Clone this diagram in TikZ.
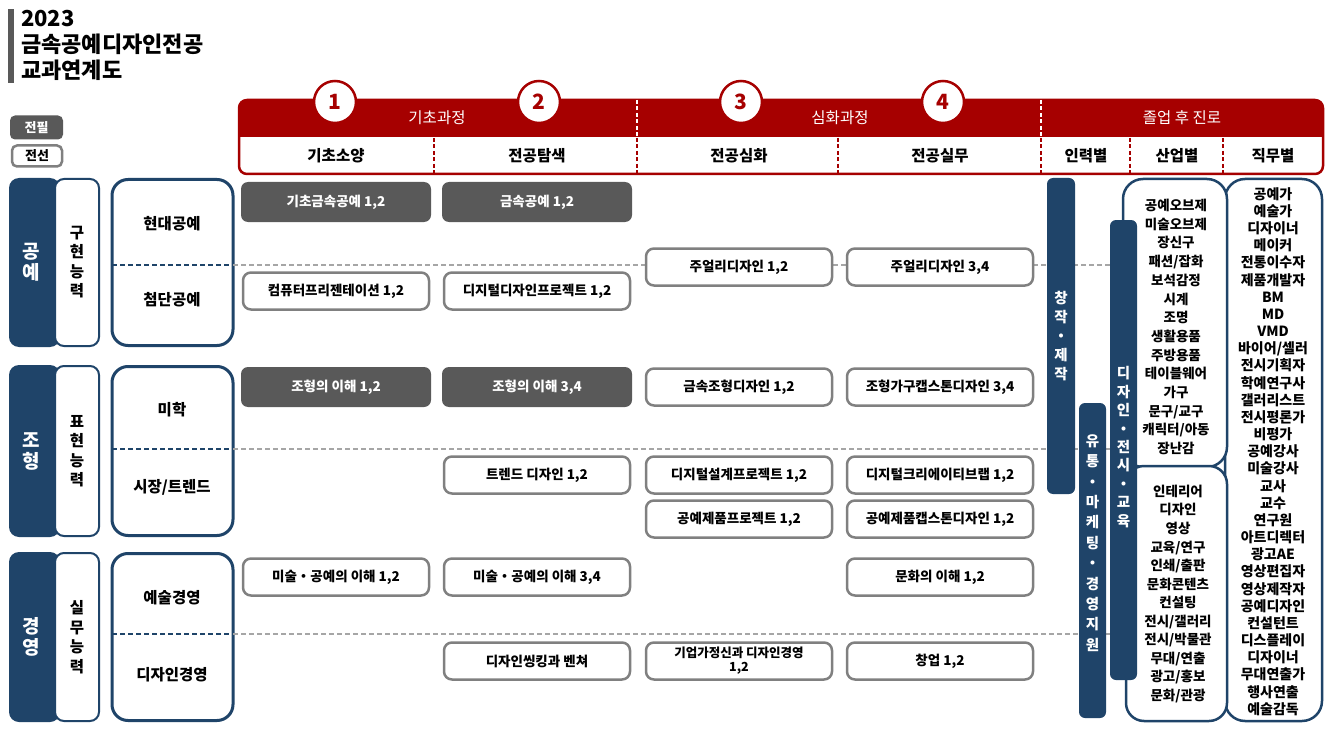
\documentclass[tikz,border=0pt]{standalone}
\usepackage{fontspec}
\setmainfont{Noto Sans CJK KR}
\definecolor{hred}{HTML}{A60000}
\definecolor{navy}{HTML}{1F4469}
\definecolor{dgray}{HTML}{595959}
\definecolor{bgray}{HTML}{808080}
\definecolor{lgray}{HTML}{A6A6A6}
\newcommand{\fsz}[2]{\fontsize{#1}{#2}\selectfont}
\tikzset{
  reqbox/.style={fill=dgray, rounded corners=7pt, text=white, minimum width=190pt, minimum height=40pt, inner sep=0pt, font=\fsz{13.5}{15}\bfseries},
  elecbox/.style={draw=bgray, line width=2.5pt, fill=white, rounded corners=8pt, text=black, minimum width=186pt, minimum height=37pt, inner sep=0pt, align=center, font=\fsz{13.5}{15}\bfseries},
  gline/.style={draw=lgray, line width=1.5pt, dash pattern=on 5pt off 3pt},
  nline/.style={draw=navy, line width=1.5pt, dash pattern=on 5pt off 3pt},
  numc/.style={circle, draw=hred, line width=2.5pt, fill=white, minimum size=42pt, inner sep=0pt, text=hred, font=\fsz{21}{22}\bfseries},
  hbandtxt/.style={text=white, font=\fsz{15.5}{17}},
  hrowtxt/.style={text=black, font=\fsz{15.5}{17}\bfseries},
  sublbl/.style={text=black, font=\fsz{15.5}{17}\bfseries},
  vlbl/.style={text=white, align=center, font=\fsz{19}{21}\bfseries},
  vside/.style={text=black, align=center, font=\fsz{15.5}{19.5}\bfseries},
  bartxt/.style={text=white, align=center},
  listtxt/.style={text=black, align=center},
}
\begin{document}
\begin{tikzpicture}[x=1pt,y=-1pt]
\useasboundingbox (0,0) rectangle (1331,733);
\fill[white] (0,0) rectangle (1331,733);

% ---- title
\fill[dgray] (8,9) rectangle (14,83);
\node[anchor=base west, font=\fsz{22}{23}\bfseries, inner sep=0pt] (t1) at (21,27) {2023};
\node[anchor=base west, font=\fsz{22}{23}\bfseries, inner sep=0pt] (t2) at (21,53) {금속공예디자인전공};
\node[anchor=base west, font=\fsz{22}{23}\bfseries, inner sep=0pt] (t3) at (21,79) {교과연계도};

% ---- legend
\node[fill=dgray, rounded corners=5pt, text=white, minimum width=53pt, minimum height=24pt, inner sep=0pt, font=\fsz{13}{14}\bfseries] (lg1) at (36.5,127.5) {전필};
\node[draw=bgray, line width=2.5pt, fill=white, rounded corners=5pt, minimum width=50pt, minimum height=21pt, inner sep=0pt, font=\fsz{13}{14}\bfseries] (lg2) at (37,156) {전선};

% ---- header
\fill[white, rounded corners=8pt] (239,100) rectangle (1323,174);
\begin{scope}
\clip (230,90) rectangle (1330,137);
\fill[hred, rounded corners=8pt] (239,100) rectangle (1323,160);
\end{scope}
\draw[hred, line width=2.5pt, rounded corners=8pt] (239,100) rectangle (1323,174);
\foreach \x in {637,1041} \draw[white, line width=1.2pt, dash pattern=on 4pt off 2.5pt] (\x,100) -- (\x,137);
\foreach \x in {434,637,838,1041,1130,1223} \draw[hred, line width=1.5pt, dash pattern=on 4pt off 2.5pt] (\x,138) -- (\x,173);

\node[hbandtxt] (hb1) at (437,118) {기초과정};
\node[hbandtxt] (hb2) at (840,118) {심화과정};
\node[hbandtxt] (hb3) at (1182,118) {졸업 후 진로};

\node[hrowtxt] (hr1) at (336,156) {기초소양};
\node[hrowtxt] (hr2) at (537,156) {전공탐색};
\node[hrowtxt] (hr3) at (739,156) {전공심화};
\node[hrowtxt] (hr4) at (940,156) {전공실무};
\node[hrowtxt] (hr5) at (1086,156) {인력별};
\node[hrowtxt] (hr6) at (1177,156) {산업별};
\node[hrowtxt] (hr7) at (1273,156) {직무별};

\node[numc] (n1) at (335,102) {1};
\node[numc] (n2) at (539,102) {2};
\node[numc] (n3) at (741,102) {3};
\node[numc] (n4) at (943,102) {4};

% ---- left groups
\foreach \yt/\yb in {178/347, 365/537, 552/722}{
  \fill[navy, rounded corners=10pt] (9,\yt) rectangle (60,\yb);
  \draw[navy, line width=2pt, fill=white, rounded corners=9pt] (55,\yt+1) rectangle (99,\yb-1);
  \draw[navy, line width=3pt, fill=white, rounded corners=16pt] (112,\yt+1.5) rectangle (233,\yb-1.5);
}
\node[vlbl] (g1) at (31,262) {공\\예};
\node[vlbl] (g2) at (31,451) {조\\형};
\node[vlbl] (g3) at (31,637) {경\\영};
\node[vside] (s1) at (77,262) {구\\현\\능\\력};
\node[vside] (s2) at (77,451) {표\\현\\능\\력};
\node[vside] (s3) at (77,637) {실\\무\\능\\력};
\node[sublbl] (a1) at (172,224) {현대공예};
\node[sublbl] (a2) at (172,300) {첨단공예};
\node[sublbl] (a3) at (172,410) {미학};
\node[sublbl] (a4) at (172,487) {시장/트렌드};
\node[sublbl] (a5) at (172,598) {예술경영};
\node[sublbl] (a6) at (172,675) {디자인경영};

% ---- dashed row separators
\foreach \y in {265,449,634}{
  \draw[nline] (112,\y) -- (233,\y);
  \draw[gline] (233,\y) -- (1112,\y);
}

% ---- course boxes
\node[reqbox] (c1) at (336,202) {기초금속공예 1,2};
\node[reqbox] (c2) at (537,202) {금속공예 1,2};
\node[elecbox] (c3) at (739,267) {주얼리디자인 1,2};
\node[elecbox] (c4) at (940,267) {주얼리디자인 3,4};
\node[elecbox] (c5) at (336,291) {컴퓨터프리젠테이션 1,2};
\node[elecbox] (c6) at (537,291) {디지털디자인프로젝트 1,2};
\node[reqbox] (c7) at (336,387) {조형의 이해 1,2};
\node[reqbox] (c8) at (537,387) {조형의 이해 3,4};
\node[elecbox] (c9) at (739,387) {금속조형디자인 1,2};
\node[elecbox] (c10) at (940,387) {조형가구캡스톤디자인 3,4};
\node[elecbox] (c11) at (537,475) {트렌드 디자인 1,2};
\node[elecbox] (c12) at (739,475) {디지털설계프로젝트 1,2};
\node[elecbox] (c13) at (940,475) {디지털크리에이티브랩 1,2};
\node[elecbox] (c14) at (739,519) {공예제품프로젝트 1,2};
\node[elecbox] (c15) at (940,519) {공예제품캡스톤디자인 1,2};
\node[elecbox] (c16) at (336,577) {미술・공예의 이해 1,2};
\node[elecbox] (c17) at (537,577) {미술・공예의 이해 3,4};
\node[elecbox] (c18) at (940,577) {문화의 이해 1,2};
\node[elecbox] (c19) at (537,661) {디자인씽킹과 벤쳐};
\node[elecbox, font=\fsz{12.5}{14}\bfseries] (c20) at (739,661) {기업가정신과 디자인경영\\1,2};
\node[elecbox] (c21) at (940,661) {창업 1,2};

% ---- right boxes
\draw[navy, line width=2.5pt, fill=white, rounded corners=20pt] (1225,179) rectangle (1322,721);
\draw[navy, line width=2.5pt, fill=white, rounded corners=20pt] (1123,179) rectangle (1227,467);
\draw[navy, line width=2.5pt, fill=white, rounded corners=18pt] (1126,466) rectangle (1227,721);

% ---- bars
\fill[navy, rounded corners=6pt] (1047,178) rectangle (1075,494);
\fill[navy, rounded corners=6pt] (1079,403) rectangle (1106,718);
\fill[navy, rounded corners=6pt] (1110,220) rectangle (1137,680);
\node[bartxt, font=\fsz{14.5}{19}\bfseries] (b1) at (1061,336) {창\\작\\・\\제\\작};
\node[bartxt, font=\fsz{14.5}{20.4}\bfseries] (b2) at (1092.5,543) {유\\통\\・\\마\\케\\팅\\・\\경\\영\\지\\원};
\node[bartxt, font=\fsz{14.5}{18.4}\bfseries] (b3) at (1123.5,447) {디\\자\\인\\・\\전\\시\\・\\교\\육};

% ---- lists
\node[listtxt, font=\fsz{13.5}{18.7}\bfseries] (L1) at (1176,327) {공예오브제\\미술오브제\\장신구\\패션/잡화\\보석감정\\시계\\조명\\생활용품\\주방용품\\테이블웨어\\가구\\문구/교구\\캐릭터/아동\\장난감};
\node[listtxt, font=\fsz{13.5}{18.55}\bfseries] (L2) at (1178,594) {인테리어\\디자인\\영상\\교육/연구\\인쇄/출판\\문화콘텐츠\\컨설팅\\전시/갤러리\\전시/박물관\\무대/연출\\광고/홍보\\문화/관광};
\node[listtxt, font=\fsz{14}{17.17}\bfseries] (L3) at (1273,451.5) {공예가\\예술가\\디자이너\\메이커\\전통이수자\\제품개발자\\BM\\MD\\VMD\\바이어/셀러\\전시기획자\\학예연구사\\갤러리스트\\전시평론가\\비평가\\공예강사\\미술강사\\교사\\교수\\연구원\\아트디렉터\\광고AE\\영상편집자\\영상제작자\\공예디자인\\컨설턴트\\디스플레이\\디자이너\\무대연출가\\행사연출\\예술감독};
\end{tikzpicture}
\end{document}
